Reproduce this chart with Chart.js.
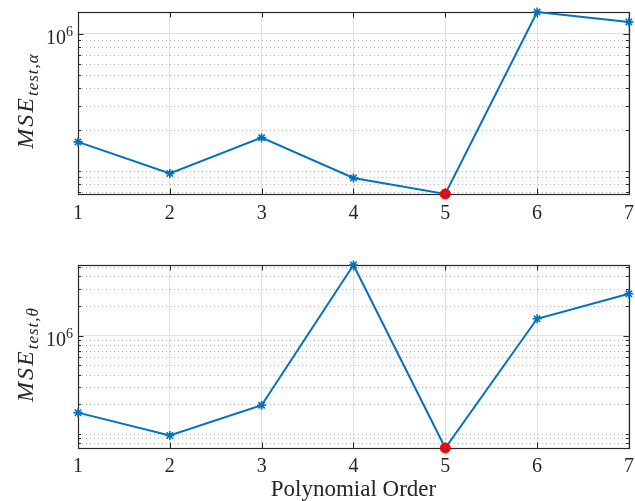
<!DOCTYPE html>
<html>
<head>
<meta charset="utf-8">
<script src="https://cdn.jsdelivr.net/npm/chart.js@4.4.1/dist/chart.umd.min.js"></script>
<style>
    html, body { margin: 0; padding: 0; background: #fff; }
    #wrap { position: relative; width: 635px; height: 501px; }
    canvas { position: absolute; left: 0; }
    #c1 { top: 0; }
    #c2 { top: 250px; }
</style>
</head>
<body>
<div id="wrap">
    <canvas id="c1" width="635" height="250"></canvas>
    <canvas id="c2" width="635" height="251"></canvas>
</div>
<script>
// dados
const ordens = [1, 2, 3, 4, 5, 6, 7];
const mseAlpha = [1.63e5, 9.6e4, 1.75e5, 8.9e4, 6.8e4, 1.44e6, 1.22e6];
const mseTheta = [1.64e5, 9.6e4, 1.95e5, 5.22e6, 7.16e4, 1.48e6, 2.66e6];
const yTicksAlpha = [1e6];
const yTicksTheta = [1e6];
const yTickLabels = ['10^6'];
const tituloX = 'Polynomial Order';

const fonte = "'Liberation Serif', 'Times New Roman', serif";
const corEixo = '#262626';
const corLinha = '#0072BD';

function ehMaior(v, lista) {
    return lista.some(t => Math.abs(t - v) / t < 1e-9);
}

// grade log: 1..9 x 10^k dentro do intervalo
function valoresGrade(min, max) {
    const vals = [];
    for (let e = Math.floor(Math.log10(min)); e <= Math.ceil(Math.log10(max)); e++) {
        for (let s = 1; s <= 9; s++) {
            const v = s * Math.pow(10, e);
            if (v >= min * (1 - 1e-9) && v <= max * (1 + 1e-9)) vals.push(v);
        }
    }
    return vals;
}

const eixosMatlab = {
    id: 'eixosMatlab',
    beforeDatasetsDraw(chart, args, opts) {
        const ctx = chart.ctx;
        const a = chart.chartArea;
        const x = chart.scales.x;
        const y = chart.scales.y;
        ctx.save();

        // grade menor pontilhada
        ctx.strokeStyle = '#b4b4b4';
        ctx.lineWidth = 1;
        ctx.setLineDash([1, 3]);
        ctx.beginPath();
        y.ticks.forEach(t => {
            if (ehMaior(t.value, opts.yTicks)) return;
            const py = Math.round(y.getPixelForValue(t.value)) + 0.5;
            ctx.moveTo(a.left, py); ctx.lineTo(a.right, py);
        });
        ctx.stroke();
        ctx.setLineDash([]);

        // marcas para dentro
        ctx.strokeStyle = corEixo;
        ctx.beginPath();
        x.ticks.forEach((t, i) => {
            const px = Math.round(x.getPixelForTick(i)) + 0.5;
            ctx.moveTo(px, a.bottom); ctx.lineTo(px, a.bottom - 5.5);
            ctx.moveTo(px, a.top); ctx.lineTo(px, a.top + 5.5);
        });
        y.ticks.forEach(t => {
            const py = Math.round(y.getPixelForValue(t.value)) + 0.5;
            const len = ehMaior(t.value, opts.yTicks) ? 5.5 : 3;
            ctx.moveTo(a.left, py); ctx.lineTo(a.left + len, py);
            ctx.moveTo(a.right, py); ctx.lineTo(a.right - len, py);
        });
        ctx.stroke();
        ctx.lineWidth = 1.2;
        ctx.strokeRect(Math.round(a.left) + 0.5, Math.round(a.top) + 0.5,
            Math.round(a.right - a.left), Math.round(a.bottom - a.top));
        ctx.restore();
    },
    afterDraw(chart, args, opts) {
        const ctx = chart.ctx;
        const a = chart.chartArea;
        const y = chart.scales.y;
        ctx.save();
        ctx.fillStyle = corEixo;
        ctx.textAlign = 'left';
        ctx.textBaseline = 'alphabetic';

        // rotulos 10^6
        opts.yTicks.forEach((v, i) => {
            const partes = yTickLabels[i].split('^');
            const py = y.getPixelForValue(v);
            ctx.font = '14px ' + fonte;
            const wExp = ctx.measureText(partes[1]).width;
            ctx.font = '20px ' + fonte;
            const wBase = ctx.measureText(partes[0]).width;
            const xFim = a.left - 5;
            ctx.fillText(partes[0], xFim - wExp - wBase, py + 10.7);
            ctx.font = '14px ' + fonte;
            ctx.fillText(partes[1], xFim - wExp, py + 2.5);
        });

        // rotulo do eixo y: MSE com subscrito
        ctx.translate(33, (a.top + a.bottom) / 2 - 2);
        ctx.rotate(-Math.PI / 2);
        ctx.font = 'italic 24px ' + fonte;
        ctx.letterSpacing = '2px';
        const w1 = ctx.measureText('MSE').width;
        ctx.font = 'italic 17px ' + fonte;
        ctx.letterSpacing = '1px';
        const w2 = ctx.measureText(opts.sub).width;
        const x0 = -(w1 + w2) / 2;
        ctx.font = 'italic 24px ' + fonte;
        ctx.letterSpacing = '2px';
        ctx.fillText('MSE', x0, 0);
        ctx.font = 'italic 17px ' + fonte;
        ctx.letterSpacing = '1px';
        ctx.fillText(opts.sub, x0 + w1, 5);
        ctx.restore();
    }
};

function montaDatasets(valores) {
    const iMin = valores.indexOf(Math.min(...valores));
    const soMin = valores.map((v, i) => i === iMin ? v : null);
    return [
        {
            data: soMin, showLine: false, pointStyle: 'circle', pointRadius: 1.3,
            pointBackgroundColor: corLinha, pointBorderWidth: 0, clip: false, order: 0
        },
        {
            data: soMin, showLine: false, pointStyle: 'circle', pointRadius: 5,
            pointBackgroundColor: '#ff0000', pointBorderColor: '#ff0000', pointBorderWidth: 1,
            clip: false, order: 1
        },
        {
            data: valores, borderColor: corLinha, borderWidth: 2, tension: 0,
            pointStyle: 'star', pointRadius: 4.5, pointBorderColor: corLinha,
            pointBackgroundColor: corLinha, pointBorderWidth: 1.6, clip: false, order: 2
        }
    ];
}

function criarGrafico(id, valores, yTicks, sub, cfg) {
    const minV = Math.min(...valores);
    const maxV = Math.max(...valores);
    return new Chart(document.getElementById(id), {
        type: 'line',
        data: {
            labels: ordens.map(String),
            datasets: montaDatasets(valores)
        },
        plugins: [eixosMatlab],
        options: {
            responsive: false,
            animation: false,
            devicePixelRatio: 1,
            events: [],
            layout: { padding: { left: 0, right: 0, top: cfg.topo, bottom: 0 } },
            scales: {
                x: {
                    type: 'category',
                    offset: false,
                    border: { display: false },
                    grid: { color: '#e0e0e0', lineWidth: 1, drawTicks: false },
                    ticks: {
                        color: corEixo, padding: cfg.padX, maxRotation: 0, autoSkip: false,
                        font: { family: fonte, size: 20 }
                    },
                    title: {
                        display: cfg.titulo,
                        text: tituloX,
                        color: corEixo,
                        padding: 0,
                        font: { family: fonte, size: 23, lineHeight: 1.0 }
                    },
                    afterFit: s => {
                        s.height = cfg.alturaX;
                        s.paddingLeft = 0;
                        s.paddingRight = 5;
                    }
                },
                y: {
                    type: 'logarithmic',
                    min: minV,
                    max: maxV,
                    border: { display: false },
                    ticks: { display: false },
                    grid: {
                        drawTicks: false,
                        lineWidth: 1,
                        color: c => ehMaior(c.tick.value, yTicks) ? '#e0e0e0' : 'rgba(0,0,0,0)'
                    },
                    afterBuildTicks: s => {
                        s.ticks = valoresGrade(s.min, s.max).map(v => ({ value: v }));
                    },
                    afterFit: s => {
                        s.width = 78;
                        s.paddingTop = 0;
                        s.paddingBottom = 0;
                    }
                }
            },
            plugins: {
                legend: { display: false },
                tooltip: { enabled: false },
                eixosMatlab: { yTicks: yTicks, sub: sub }
            }
        }
    });
}

criarGrafico('c1', mseAlpha, yTicksAlpha, 'test,\u03B1', { topo: 12, alturaX: 56, padX: 8, titulo: false });
criarGrafico('c2', mseTheta, yTicksTheta, 'test,\u03B8', { topo: 15, alturaX: 53, padX: 7, titulo: true });
</script>
</body>
</html>
